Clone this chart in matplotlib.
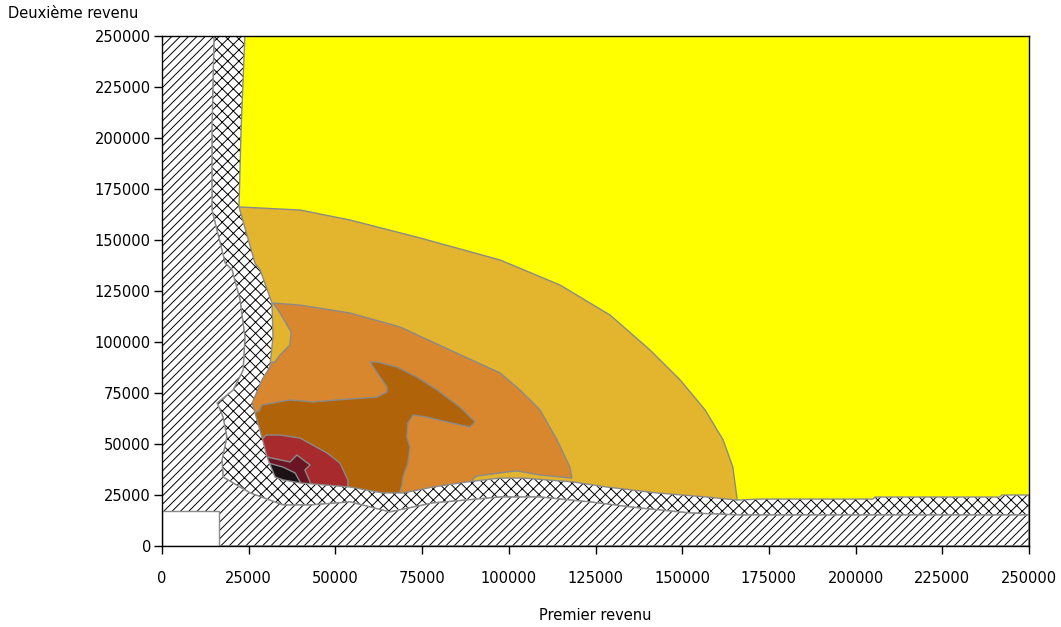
import numpy as np
import matplotlib.pyplot as plt
from matplotlib.patches import Polygon, Rectangle

plt.rcParams['font.family'] = 'DejaVu Sans'
plt.rcParams['hatch.linewidth'] = 0.7

K = 1000  # all boundary points below are in thousands

x_ticks = [0, 25000, 50000, 75000, 100000, 125000, 150000, 175000, 200000, 225000, 250000]
y_ticks = [0, 25000, 50000, 75000, 100000, 125000, 150000, 175000, 200000, 225000, 250000]
x_label = "Premier revenu"
y_label = "Deuxième revenu"

# boundary between the /// zone and the crosshatched band (top -> right)
outer_edge = [(15.0, 250), (14.4, 203.9), (14.4, 164.7), (18.2, 138.7), (20.2, 135.3),
              (22.5, 120.6), (23.9, 102.5), (23.4, 86.3), (20.5, 76.5), (15.9, 70.1),
              (17.6, 63.2), (18.7, 53.4), (17.3, 42.2), (17.6, 33.8), (25.4, 26.0),
              (34.9, 20.1), (42.7, 20.1), (54.2, 21.6), (65.7, 16.7), (78.1, 21.1),
              (97.5, 24.0), (109.0, 24.0), (123.4, 21.6), (137.8, 18.6), (152.2, 16.2),
              (166.7, 15.2), (250, 15.2)]

# boundary between the crosshatched band and the coloured zones (top -> right)
inner_edge = [(23.9, 250), (22.8, 203.9), (22.2, 166.2), (26.8, 138.7), (28.3, 135.3),
              (31.7, 119.1), (32.0, 102.5), (31.1, 87.7), (28.8, 81.4), (26.0, 70.1),
              (27.4, 61.8), (28.8, 53.4), (30.3, 43.6), (32.6, 33.8), (34.9, 32.4),
              (39.8, 30.9), (54.2, 28.9), (63.7, 26.0), (69.5, 26.0), (78.1, 28.9),
              (87.9, 31.4), (97.5, 33.3), (104.1, 33.3), (118.5, 31.4), (128.3, 28.9),
              (142.7, 26.0), (157.2, 24.0), (165.8, 22.5), (172.4, 23.0), (205.0, 23.0),
              (205.6, 24.0), (241.6, 24.0), (242.2, 25.0), (250, 25.0)]

light_orange_zone = [(0, 0), (18, 166), (22.2, 166.2), (39.8, 164.7), (54.2, 159.8),
                     (74.4, 151.0), (97.5, 140.2), (114.8, 127.9), (129.2, 113.2),
                     (140.7, 96.1), (149.4, 81.4), (156.6, 66.7), (161.8, 52.0),
                     (164.6, 38.7), (165.8, 23.5), (166, 10)]

orange_zone = [(0, 0), (25, 88), (32.6, 90.2), (34.0, 93.6), (36.9, 98.5), (37.2, 104.9),
               (34.9, 111.8), (32.9, 117.2), (32.0, 119.1), (39.8, 118.1), (54.2, 114.2),
               (68.6, 107.4), (83.0, 96.1), (97.5, 84.8), (103.2, 76.5), (109.0, 66.7),
               (113.9, 52.0), (117.6, 38.7), (118.2, 33.3), (109.0, 34.8), (102.4, 36.8),
               (99.5, 36.3), (90.8, 34.3), (89.7, 32.9), (88, 20)]

dark_orange_zone = [(15, 40), (20, 60), (28.0, 66.2), (28.8, 69.1), (36.9, 71.6), (43.5, 70.6),
                    (50.5, 71.6), (58.0, 72.5), (62.0, 73.0), (64.9, 75.5), (64.9, 77.9),
                    (62.9, 82.8), (60.0, 90.2), (62.0, 90.2), (67.8, 87.7), (73.5, 82.8),
                    (79.3, 76.5), (85.9, 68.1), (90.3, 60.8), (88.8, 58.3), (82.2, 60.8),
                    (76.4, 63.2), (72.4, 64.2), (70.9, 60.3), (70.6, 53.4), (71.5, 48.5),
                    (70.9, 40.7), (69.5, 33.8), (69.2, 29.9), (68.6, 26.5), (68, 20), (30, 15)]

red_zone = [(25, 45), (30.0, 54.4), (34.0, 54.4), (39.8, 52.9), (47.6, 45.6), (51.3, 40.7),
            (53.6, 32.4), (53.6, 28), (35, 24)]

dark_red_zone = [(25, 35), (30.3, 43.6), (36.9, 41.2), (38.9, 44.6), (42.7, 39.7),
                 (41.2, 37.3), (42.7, 31.4), (42.7, 27)]

black_zone = [(25, 35), (30.6, 40.7), (34.9, 38.7), (38.4, 35.8), (39.8, 31.4), (39.8, 27)]

white_corner = (16.5, 17.0)  # width, height of the empty corner

EDGE = '#8a8a8a'


def to_data(points):
    return np.array(points, dtype=float) * K


def add_zone(ax, points, color, z):
    ax.add_patch(Polygon(to_data(points), closed=True, facecolor=color,
                         edgecolor=EDGE, linewidth=1.0, zorder=z))


def add_hatched(ax, points, hatch, z):
    pts = to_data(points)
    ax.add_patch(Polygon(pts, closed=True, facecolor='white', edgecolor='black',
                         linewidth=0, hatch=hatch, zorder=z))
    ax.add_patch(Polygon(pts, closed=True, fill=False, edgecolor=EDGE,
                         linewidth=1.0, zorder=z + 0.01))


def main():
    fig = plt.figure(figsize=(10.61, 6.27), dpi=100)
    ax = fig.add_axes([162 / 1061, 81 / 627, 867 / 1061, 510 / 627])

    ax.add_patch(Rectangle((0, 0), 250 * K, 250 * K, facecolor='#ffff00',
                           edgecolor='none', zorder=1.0))
    add_zone(ax, light_orange_zone, '#e3b42e', 1.1)
    add_zone(ax, orange_zone, '#d9872e', 1.2)
    add_zone(ax, dark_orange_zone, '#b06308', 1.3)
    add_zone(ax, red_zone, '#a82a2c', 1.4)
    add_zone(ax, dark_red_zone, '#6b1423', 1.5)
    add_zone(ax, black_zone, '#1c1216', 1.6)

    band = outer_edge + inner_edge[::-1]
    add_hatched(ax, band, 'xxx', 1.8)

    diag = outer_edge + [(250, 0), (0, 0), (0, 250)]
    add_hatched(ax, diag, '////', 1.9)

    ax.add_patch(Rectangle((0, 0), white_corner[0] * K, white_corner[1] * K,
                           facecolor='white', edgecolor=EDGE, linewidth=1.0, zorder=2.0))

    ax.set_xlim(0, 250 * K)
    ax.set_ylim(0, 250 * K)
    ax.set_xticks(x_ticks)
    ax.set_yticks(y_ticks)
    ax.set_xticklabels([str(v) for v in x_ticks])
    ax.set_yticklabels([str(v) for v in y_ticks])
    ax.tick_params(direction='out', length=6, width=1, labelsize=10.5, colors='black')
    ax.tick_params(axis='x', pad=12)
    ax.tick_params(axis='y', pad=2)
    for s in ax.spines.values():
        s.set_linewidth(1.0)
        s.set_color('black')

    ax.set_xlabel(x_label, fontsize=10.5, labelpad=16)
    fig.text(8 / 1061, 1 - 14 / 627, y_label, fontsize=10.5, ha='left', va='center')

    fig.savefig("out.png", dpi=100)


if __name__ == "__main__":
    main()
